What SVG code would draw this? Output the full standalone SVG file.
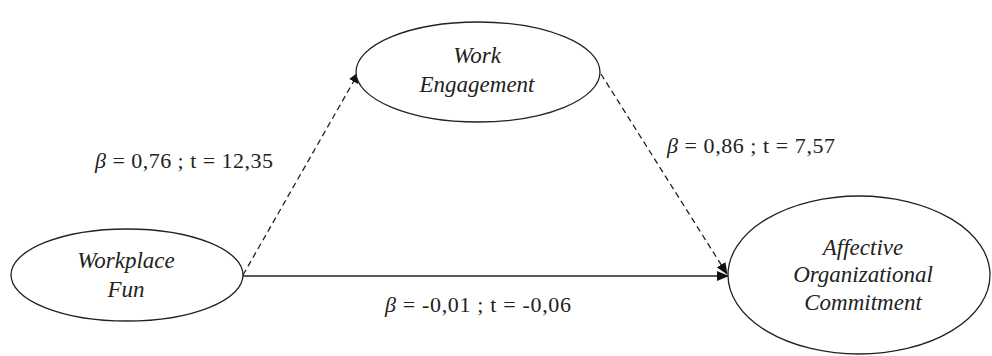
<svg xmlns="http://www.w3.org/2000/svg" width="992" height="356" viewBox="0 0 992 356">
<defs>
<marker id="arr" markerWidth="12" markerHeight="10" refX="11" refY="5" orient="auto" markerUnits="userSpaceOnUse">
<path d="M0,0 L12,5 L0,10 Z" fill="#111"/>
</marker>
</defs>
<style>
.node{fill:#fff;stroke:#222;stroke-width:1.3}
.nt{font-family:"Liberation Serif",serif;font-style:italic;font-size:23px;fill:#222;text-anchor:middle}
.lb{font-family:"Liberation Serif",serif;font-size:22px;fill:#222}
.ln{stroke:#222;stroke-width:1.3;fill:none}
.dash{stroke-dasharray:6,4}
</style>
<rect width="992" height="356" fill="#fff"/>
<g id="connectors">
<line class="ln dash" x1="243" y1="275" x2="359" y2="72" marker-end="url(#arr)"/>
<line class="ln dash" x1="601" y1="74" x2="727" y2="274" marker-end="url(#arr)"/>
<line class="ln" x1="243" y1="276" x2="728" y2="276" marker-end="url(#arr)"/>
<text class="lb" x="95" y="168" textLength="178" lengthAdjust="spacing"><tspan font-style="italic">β</tspan> = 0,76 ; t = 12,35</text>
<text class="lb" x="667" y="153" textLength="168" lengthAdjust="spacing"><tspan font-style="italic">β</tspan> = 0,86 ; t = 7,57</text>
<text class="lb" x="385" y="312" textLength="186" lengthAdjust="spacing"><tspan font-style="italic">β</tspan> = -0,01 ; t = -0,06</text>
</g>
<g id="workplace-fun">
<ellipse class="node" cx="127" cy="275" rx="116" ry="46"/>
<text class="nt" x="126" y="268">Workplace</text>
<text class="nt" x="126" y="297">Fun</text>
</g>
<g id="work-engagement">
<ellipse class="node" cx="478" cy="72" rx="122" ry="50"/>
<text class="nt" x="477" y="63">Work</text>
<text class="nt" x="477" y="92">Engagement</text>
</g>
<g id="affective-organizational-commitment">
<ellipse class="node" cx="859" cy="275" rx="131" ry="79"/>
<text class="nt" x="863" y="255">Affective</text>
<text class="nt" x="863" y="282">Organizational</text>
<text class="nt" x="863" y="310">Commitment</text>
</g>
</svg>
